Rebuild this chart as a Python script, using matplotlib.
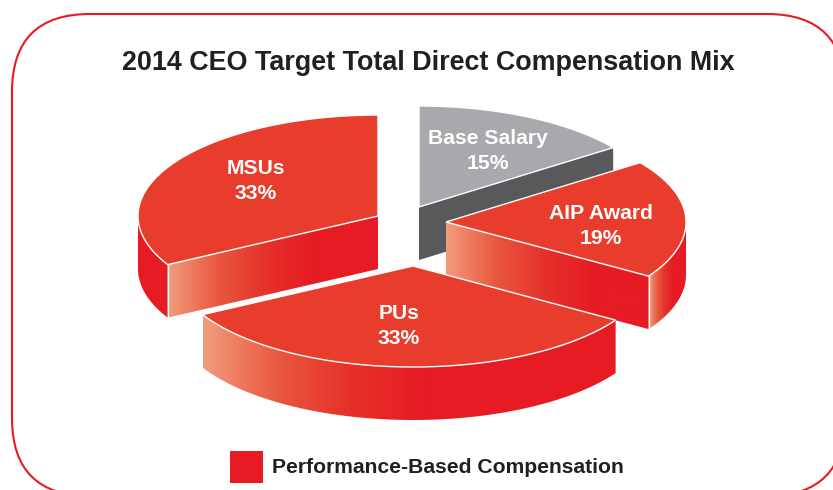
import numpy as np
import matplotlib
matplotlib.use('Agg')
import matplotlib.pyplot as plt
from matplotlib.colors import LinearSegmentedColormap
from matplotlib.patches import FancyBboxPatch, Polygon, Rectangle

title = "2014 CEO Target Total Direct Compensation Mix"
categories = ["Base Salary", "AIP Award", "PUs", "MSUs"]
shares = [15, 19, 33, 33]
legend_label = "Performance-Based Compensation"

# layout, in image pixels
apex = [(419, 207), (446, 222), (413, 266), (378, 216)]
label_pos = [(488, 151), (601, 226), (399, 326), (256, 181)]
rx, ry, depth = 240, 101, 53

plt.rcParams['font.family'] = ['Liberation Sans', 'DejaVu Sans']
RED = '#e61b23'
TOP_RED = '#e83c2d'
INK = '#231f20'
ramp = LinearSegmentedColormap.from_list('ramp', ['#f29b7c', '#e9573f', '#e5302a', RED])

fig = plt.figure(figsize=(8.33, 4.9), dpi=100)
ax = fig.add_axes([0, 0, 1, 1])


def rim(c, t):  # point on the top ellipse, t clockwise from 12 o'clock
    t = np.radians(t)
    return np.column_stack([c[0] + rx*np.sin(t), c[1] - ry*np.cos(t)])


def shaded(pts, span, z):
    # horizontal gradient clipped to a polygon
    poly = Polygon(pts, closed=True, fc='none', ec='none', zorder=z)
    ax.add_patch(poly)
    x0 = pts[:, 0].min()
    grad = np.clip((np.linspace(x0, x0+600, 600) - x0) / span, 0, 1)[None, :]
    im = ax.imshow(grad, cmap=ramp, vmin=0, vmax=1, aspect='auto', zorder=z,
                   extent=[x0, x0+600, pts[:, 1].max(), pts[:, 1].min()])
    im.set_clip_path(poly)


ax.add_patch(FancyBboxPatch((12+78, 14+78), 833-156, 482-156, boxstyle='round,pad=78,rounding_size=78',
                            fc='white', ec=RED, lw=1.5, zorder=1))

edges = np.cumsum([0] + shares) * 3.6
# painted back to front
for i in [0, 3, 1, 2]:
    c, start, end = apex[i], edges[i], edges[i+1]
    z = 2 + [0, 3, 1, 2].index(i)*0.1
    grey = categories[i] == "Base Salary"
    down = np.array([0, depth])

    # radial face
    t = end if end < 180 else (start if start > 180 else None)
    if t is not None:
        p = rim(c, [t])[0]
        face = np.array([c, p, p+down, np.array(c)+down])
        if grey:
            ax.add_patch(Polygon(face, closed=True, fc='#58595b', ec='none', zorder=z))
        else:
            shaded(face[::-1] if p[0] > c[0] else face, 150, z)

    # outer wall
    lo, hi = max(start, 90), min(end, 270)
    if lo < hi:
        arc = rim(c, np.linspace(lo, hi, 80))
        wall = np.vstack([arc, (arc+down)[::-1]])
        if categories[i] == "MSUs":
            ax.add_patch(Polygon(wall, closed=True, fc=RED, ec='none', zorder=z))
        elif categories[i] == "AIP Award":
            shaded(wall, 24, z)
        else:
            shaded(wall, 225, z)

    # top
    top = np.vstack([[c], rim(c, np.linspace(start, end, 120))])
    ax.add_patch(Polygon(top, closed=True, fc='#a7a9ac' if grey else TOP_RED, ec='white', lw=1,
                         joinstyle='miter', zorder=z+0.01))
    if t is not None and not grey:
        p = rim(c, [t])[0]
        ax.plot([p[0], p[0]], [p[1], p[1]+depth], color='white', lw=1, zorder=z+0.01)

    name = categories[i]
    ax.text(*label_pos[i], f"{name}\n{shares[i]}%", color='white', fontsize=15.2, fontweight='bold',
            ha='center', va='center', linespacing=1.42, zorder=5)

ax.text(428, 62.5, title, color=INK, fontsize=19.4, fontweight='bold', ha='center', va='center', zorder=5)
ax.add_patch(Rectangle((230, 451), 33, 32, fc=RED, ec='none', zorder=5))
ax.text(272, 467, legend_label, color=INK, fontsize=15.25, fontweight='bold', ha='left', va='center', zorder=5)

ax.set_xlim(0, 833)
ax.set_ylim(490, 0)
ax.axis('off')
fig.savefig('out.png', dpi=100)
